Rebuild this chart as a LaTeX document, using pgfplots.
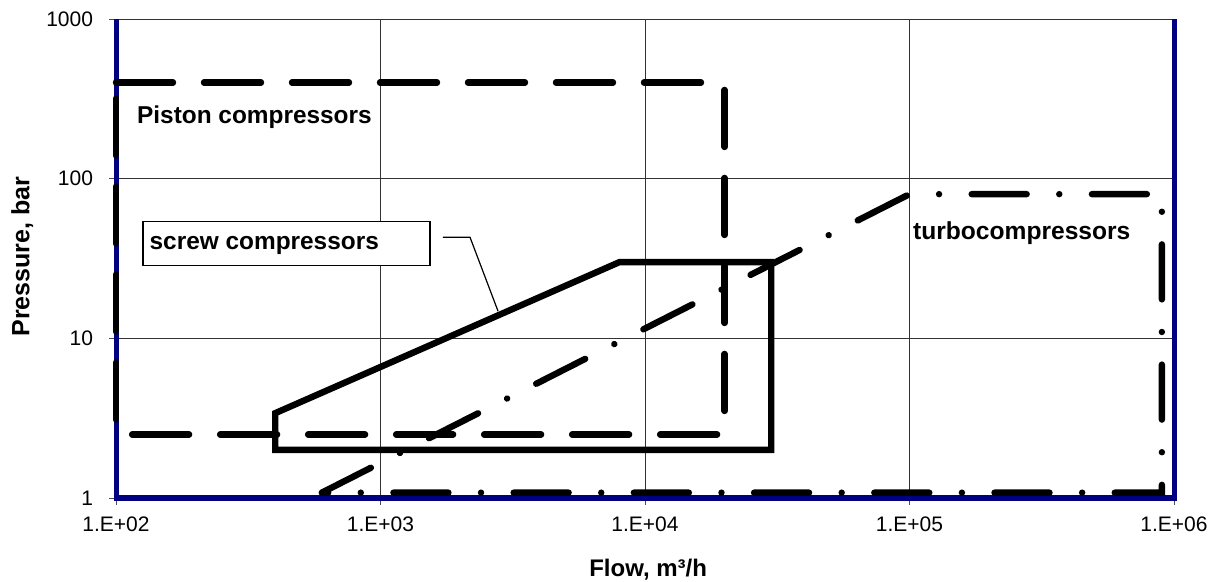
\documentclass[border=0pt]{standalone}
\usepackage{pgfplots}
\pgfplotsset{compat=1.18}
\usepackage{fontspec}
\setmainfont{Liberation Sans}
\definecolor{axisblue}{RGB}{0,0,128}

\begin{document}
\begin{tikzpicture}
\begin{axis}[
  at={(0,0)}, anchor=south west,
  scale only axis,
  width=529bp, height=239.5bp,
  xmode=log, ymode=log,
  xmin=100, xmax=1000000,
  ymin=1, ymax=1000,
  xtick={100,1000,10000,100000,1000000},
  xticklabels={1.E+02,1.E+03,1.E+04,1.E+05,1.E+06},
  ytick={1,10,100,1000},
  yticklabels={1,10,100,1000},
  xminorticks=false, yminorticks=false,
  tick pos=left,
  tick align=outside,
  major tick length=3.5bp,
  tick style={black!70, line width=0.5bp},
  ticklabel style={font=\fontsize{10.5bp}{12bp}\selectfont},
  xticklabel style={yshift=-2.5bp},
  yticklabel style={xshift=-4.5bp},
  grid=major,
  major grid style={black!80, line width=0.5bp},
  axis line style={draw=none},
  clip=false,
  no markers,
  xlabel={Flow, m³/h},
  ylabel={Pressure, bar},
  xlabel style={at={(axis description cs:0.503,-0.1649)}, anchor=base, inner sep=0pt,
    font=\fontsize{12bp}{14bp}\selectfont\bfseries},
  ylabel style={at={(axis description cs:-0.0818,0.504)}, anchor=base, inner sep=0pt,
    font=\fontsize{12.5bp}{14bp}\selectfont\bfseries},
]
% blue frame on three sides
\draw[axisblue, line width=2.5bp, line join=miter]
  (rel axis cs:0,1) -- (rel axis cs:0,0) -- (rel axis cs:1,0) -- (rel axis cs:1,1);

% piston compressors
\addplot[black, line width=3.2bp, line cap=round,
  dash pattern=on 28.5bp off 15.5bp]
  coordinates {(100,400) (20000,400) (20000,2.5) (100,2.5)} -- cycle;

% turbocompressors
\addplot[black, line width=3.2bp, line cap=round,
  dash pattern=on 27.5bp off 16.3bp on 0.01bp off 16.3bp]
  coordinates {(600,1.08) (100000,80) (900000,80) (900000,1.08)} -- cycle;

% screw compressors
\addplot[black, line width=3.2bp, line join=miter]
  coordinates {(400,2) (400,3.4) (8000,30) (30000,30) (30000,2)} -- cycle;

\node[anchor=base west, inner sep=0pt, font=\fontsize{12.2bp}{14bp}\selectfont\bfseries]
  at (axis cs:119.8,221.6) {Piston compressors};
\node[anchor=base west, inner sep=0pt, font=\fontsize{12.3bp}{14bp}\selectfont\bfseries]
  at (axis cs:102800,41.7) {turbocompressors};

\draw[black, line width=0.6bp, fill=white] (axis cs:126.5,28.7) rectangle (axis cs:1539,54.1);
\node[anchor=base west, inner sep=0pt, font=\fontsize{12.2bp}{14bp}\selectfont\bfseries]
  at (axis cs:133.6,36.2) {screw compressors};
\draw[black, line width=0.6bp]
  (axis cs:1723,42.97) -- (axis cs:2180,42.97) -- (axis cs:2782,14.8);
\end{axis}
\pgfresetboundingbox
\useasboundingbox (-58bp,-42bp) rectangle (551bp,249bp);
\end{tikzpicture}
\end{document}
